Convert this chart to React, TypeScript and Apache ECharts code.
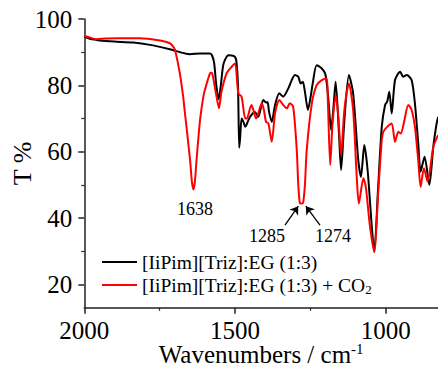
import React, { useEffect, useRef } from "react";
import * as echarts from "echarts";

// Wavenumbers (cm-1) and transmittance (%)
const wnBlack = [2000, 1980, 1959, 1948, 1900, 1837, 1782, 1716, 1705, 1665, 1649, 1616, 1583, 1576, 1569, 1562, 1554, 1547, 1538, 1522, 1510, 1500, 1495, 1490, 1486, 1483, 1478, 1472, 1466, 1460, 1450, 1434, 1423, 1406, 1397, 1392, 1387, 1378, 1367, 1353, 1340, 1323, 1301, 1290, 1282, 1275, 1268, 1258, 1250, 1242, 1229, 1212, 1201, 1196, 1190, 1181, 1174, 1166, 1155, 1148, 1137, 1122, 1108, 1091, 1082, 1071, 1060, 1046, 1038, 1025, 1013, 1002, 995, 988, 980, 969, 952, 942, 930, 914, 903, 892, 884, 871, 855, 842, 831, 826];
const tBlack = [94.6, 94.0, 93.7, 93.5, 93.2, 92.9, 92.2, 90.9, 90.6, 89.6, 89.4, 89.6, 89.6, 89.0, 86.6, 80.0, 75.8, 80.0, 86.5, 89.1, 89.0, 88.6, 87.0, 80.0, 61.2, 64.0, 70.0, 69.0, 67.5, 68.5, 70.5, 72.0, 70.5, 75.6, 74.8, 75.0, 72.0, 69.0, 74.1, 77.6, 76.6, 79.1, 83.1, 82.6, 80.6, 81.1, 78.1, 72.6, 76.0, 80.6, 86.1, 85.1, 83.6, 81.0, 75.6, 66.5, 72.6, 81.1, 65.5, 54.5, 69.5, 83.1, 77.6, 57.5, 52.4, 62.0, 54.5, 37.4, 29.8, 49.4, 67.5, 74.1, 75.1, 78.1, 71.5, 81.6, 84.1, 82.6, 83.1, 81.6, 74.6, 62.5, 54.0, 58.5, 50.0, 61.5, 68.5, 70.5];

const wnRed = [2000, 1985, 1959, 1930, 1892, 1815, 1749, 1716, 1705, 1699, 1683, 1672, 1666, 1649, 1643, 1638, 1633, 1628, 1616, 1605, 1600, 1583, 1577, 1572, 1560, 1553, 1545, 1528, 1515, 1500, 1489, 1478, 1466, 1461, 1450, 1445, 1430, 1411, 1404, 1397, 1389, 1378, 1367, 1353, 1340, 1328, 1318, 1307, 1295, 1290, 1285, 1280, 1274, 1268, 1262, 1245, 1229, 1212, 1196, 1192, 1184, 1177, 1166, 1157, 1148, 1137, 1122, 1108, 1096, 1089, 1074, 1066, 1052, 1038, 1025, 1013, 1008, 995, 980, 969, 958, 950, 939, 925, 914, 903, 892, 884, 873, 861, 842, 831, 826];
const tRed = [94.9, 94.5, 93.9, 94.1, 94.2, 94.2, 93.5, 92.7, 91.7, 90.7, 83.6, 76.6, 71.6, 57.5, 51.0, 48.6, 51.0, 57.0, 69.5, 76.6, 78.6, 83.6, 83.8, 82.1, 76.0, 73.1, 78.0, 83.6, 85.2, 86.6, 77.6, 76.6, 70.0, 70.0, 73.1, 74.1, 70.0, 74.6, 72.6, 69.0, 68.5, 63.0, 71.6, 75.6, 74.1, 73.1, 74.6, 73.6, 60.5, 50.0, 44.6, 44.4, 44.6, 50.0, 60.5, 74.6, 80.1, 81.6, 82.1, 75.6, 56.0, 67.5, 77.1, 70.5, 59.0, 72.6, 80.6, 72.6, 52.4, 44.4, 52.0, 49.4, 37.4, 29.8, 47.4, 63.5, 66.0, 67.5, 68.5, 63.0, 66.0, 65.5, 69.0, 74.1, 72.6, 67.5, 57.5, 49.4, 55.0, 51.0, 61.5, 64.0, 65.0];

const xTickLabels = [1000, 1500, 2000];
const xMinorTicks = [1250, 1750];
const yTickLabels = [20, 40, 60, 80, 100];
const yMinorTicks = [30, 50, 70, 90];

// peak annotations: [label, wn, T]
const peakLabels: [string, number, number][] = [
  ["1638", 1633, 42.7],
  ["1285", 1394, 34.6],
  ["1274", 1175, 34.6],
];
// arrows: [fromWn, fromT, toWn, toT]
const arrows: [number, number, number, number][] = [
  [1334, 37.9, 1290, 43.6],
  [1218, 37.9, 1265, 43.6],
];

const FONT = "Liberation Serif";

export default function App() {
  const ref = useRef<HTMLDivElement>(null);
  useEffect(() => {
    if (!ref.current) return;
    const chart = echarts.init(ref.current, undefined, { renderer: "svg" });
    const zip = (a: number[], b: number[]) => a.map((v, i) => [v, b[i]]);
    const xCommon = {
      type: "value" as const,
      inverse: true,
      min: 826.4,
      max: 2000,
      gridIndex: 0,
      splitLine: { show: false },
    };
    const yCommon = {
      type: "value" as const,
      min: 13,
      max: 100,
      gridIndex: 0,
      splitLine: { show: false },
    };
    chart.setOption({
      animation: false,
      backgroundColor: "#fff",
      grid: {
        left: 84.3,
        top: 19,
        right: 0,
        bottom: 63.3,
        containLabel: false,
        outerBoundsMode: "none",
      },
      legend: {
        orient: "vertical",
        left: 102,
        top: 252,
        padding: 0,
        itemWidth: 35,
        itemHeight: 2,
        itemGap: 3,
        data: [
          { name: "black", icon: "rect" },
          { name: "red", icon: "rect" },
        ],
        formatter: (name: string) =>
          name === "black"
            ? "{a|[IiPim][Triz]:EG (1:3)}"
            : "{a|[IiPim][Triz]:EG (1:3) + CO}{sub|2}",
        textStyle: {
          fontFamily: FONT,
          color: "#000",
          rich: {
            a: { fontFamily: FONT, fontSize: 19.5, color: "#000", lineHeight: 22 },
            sub: { fontFamily: FONT, fontSize: 13, color: "#000", lineHeight: 10, verticalAlign: "bottom" },
          },
        },
      },
      xAxis: [
        {
          ...xCommon,
          name: "{a|Wavenumbers / cm}{sup|-1}",
          nameLocation: "middle",
          nameGap: 34,
          nameMoveOverlap: false,
          nameTextStyle: {
            rich: {
              a: { fontFamily: FONT, fontSize: 25, color: "#000", lineHeight: 26 },
              sup: { fontFamily: FONT, fontSize: 15, color: "#000", lineHeight: 14, verticalAlign: "top" },
            },
          },
          axisLine: { show: true, lineStyle: { color: "#222", width: 1.5 } },
          axisTick: { show: true, customValues: xTickLabels, length: 6, inside: false, lineStyle: { color: "#222", width: 1.5 } },
          axisLabel: {
            customValues: xTickLabels,
            formatter: (v: number) => String(v),
            fontFamily: FONT,
            fontSize: 25,
            color: "#000",
            margin: 10,
          },
        },
        {
          ...xCommon,
          axisLine: { show: false },
          axisTick: { show: true, customValues: xMinorTicks, length: 3, lineStyle: { color: "#222", width: 1.2 } },
          axisLabel: { show: false },
          position: "bottom",
        },
      ],
      yAxis: [
        {
          ...yCommon,
          name: "T %",
          nameLocation: "middle",
          nameGap: 49,
          nameMoveOverlap: false,
          nameTextStyle: { fontFamily: FONT, fontSize: 26, color: "#000" },
          axisLine: { show: true, lineStyle: { color: "#222", width: 1.5 } },
          axisTick: { show: true, customValues: yTickLabels, length: 6, lineStyle: { color: "#222", width: 1.5 } },
          axisLabel: {
            customValues: yTickLabels,
            formatter: (v: number) => String(v),
            fontFamily: FONT,
            fontSize: 25,
            color: "#000",
            margin: 12,
          },
        },
        {
          ...yCommon,
          axisLine: { show: false },
          axisTick: { show: true, customValues: yMinorTicks, length: 3, lineStyle: { color: "#222", width: 1.2 } },
          axisLabel: { show: false },
          position: "left",
        },
      ],
      series: [
        {
          name: "black",
          type: "line",
          xAxisIndex: 0,
          yAxisIndex: 0,
          data: zip(wnBlack, tBlack),
          symbol: "none",
          smooth: 0.25,
          lineStyle: { color: "#000", width: 2 },
          itemStyle: { color: "#000" },
        },
        {
          name: "red",
          type: "line",
          xAxisIndex: 0,
          yAxisIndex: 0,
          data: zip(wnRed, tRed),
          symbol: "none",
          smooth: 0.25,
          lineStyle: { color: "#ff0000", width: 2 },
          itemStyle: { color: "#ff0000" },
          markLine: {
            silent: true,
            symbol: ["none", "arrow"],
            symbolSize: 8,
            label: { show: false },
            lineStyle: { color: "#000", width: 1.3, type: "solid" },
            data: arrows.map(([x1, y1, x2, y2]) => [{ coord: [x1, y1] }, { coord: [x2, y2] }]),
          },
          markPoint: {
            silent: true,
            symbol: "rect",
            symbolSize: 1,
            itemStyle: { color: "rgba(0,0,0,0)" },
            label: {
              show: true,
              position: "inside",
              fontFamily: FONT,
              fontSize: 18,
              color: "#000",
              formatter: (p: any) => p.name,
            },
            data: peakLabels.map(([name, x, y]) => ({ name, coord: [x, y] })),
          },
        },
      ],
    });
    return () => chart.dispose();
  }, []);
  return (
    <div
      ref={ref}
      style={{ position: "fixed", left: 0, top: 0, width: 438, height: 371, background: "#fff" }}
    />
  );
}
